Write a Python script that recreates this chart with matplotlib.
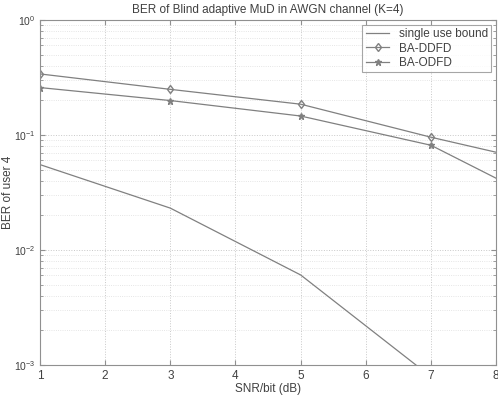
import matplotlib
matplotlib.use("Agg")
import matplotlib.pyplot as plt
from matplotlib.ticker import LogLocator, NullFormatter

plt.rcParams["font.family"] = ["Liberation Sans", "DejaVu Sans"]

# values
snr_bound = [1, 3, 5, 7, 8]
ber_bound = [0.0552, 0.0231, 0.00606, 0.00079, 0.00019]

snr_ba = [1, 3, 5, 7, 8]
ber_ddfd = [0.339, 0.249, 0.185, 0.0955, 0.0707]
ber_odfd = [0.258, 0.199, 0.146, 0.0813, 0.042]

line_col = "#808080"
text_col = "#404040"

fig = plt.figure(figsize=(4.98, 3.98), dpi=100)
ax = fig.add_axes([0.0803, 0.083, 0.916, 0.867])

ax.semilogy(snr_bound, ber_bound, "-", color=line_col, linewidth=0.9,
            label="single use bound")
ax.semilogy(snr_ba, ber_ddfd, "-d", color=line_col, linewidth=0.9,
            markersize=4.5, markerfacecolor="none", markevery=[0, 1, 2, 3],
            label="BA-DDFD")
ax.semilogy(snr_ba, ber_odfd, "-*", color=line_col, linewidth=0.9,
            markersize=4.5, markevery=[0, 1, 2, 3], label="BA-ODFD")

ax.set_xlim(1, 8)
ax.set_ylim(1e-3, 1)
ax.set_xticks(range(1, 9))
ax.yaxis.set_major_locator(LogLocator(base=10, numticks=10))
ax.yaxis.set_minor_locator(LogLocator(base=10, subs=range(2, 10), numticks=10))
ax.yaxis.set_minor_formatter(NullFormatter())

ax.grid(True, which="major", linestyle=":", color="#c8c8c8", linewidth=0.7)
ax.grid(True, which="minor", axis="y", linestyle=":", color="#dddddd", linewidth=0.6)
ax.tick_params(which="both", direction="in", top=True, right=True,
               colors="#909090", labelcolor=text_col, labelsize=8.5)
ax.tick_params(axis="y", labelsize=7.5, pad=3)
ax.tick_params(which="minor", length=2)
for s in ax.spines.values():
    s.set_color("#909090")
    s.set_linewidth(0.8)

ax.set_title("BER of Blind adaptive MuD in AWGN channel (K=4)", fontsize=8.5,
             color=text_col, pad=5)
ax.set_xlabel("SNR/bit (dB)", fontsize=8.5, color=text_col, labelpad=1)
ax.set_ylabel("BER of user 4", fontsize=8.5, color=text_col)
ax.yaxis.set_label_coords(-0.056, 0.5)

leg = ax.legend(loc="upper right", fontsize=8.5, frameon=True, fancybox=False,
                edgecolor="#909090", borderaxespad=0.4, handlelength=2.0,
                labelspacing=0.2, borderpad=0.3)
leg.get_frame().set_linewidth(0.8)
for t in leg.get_texts():
    t.set_color(text_col)

fig.savefig("out.png", dpi=100)
